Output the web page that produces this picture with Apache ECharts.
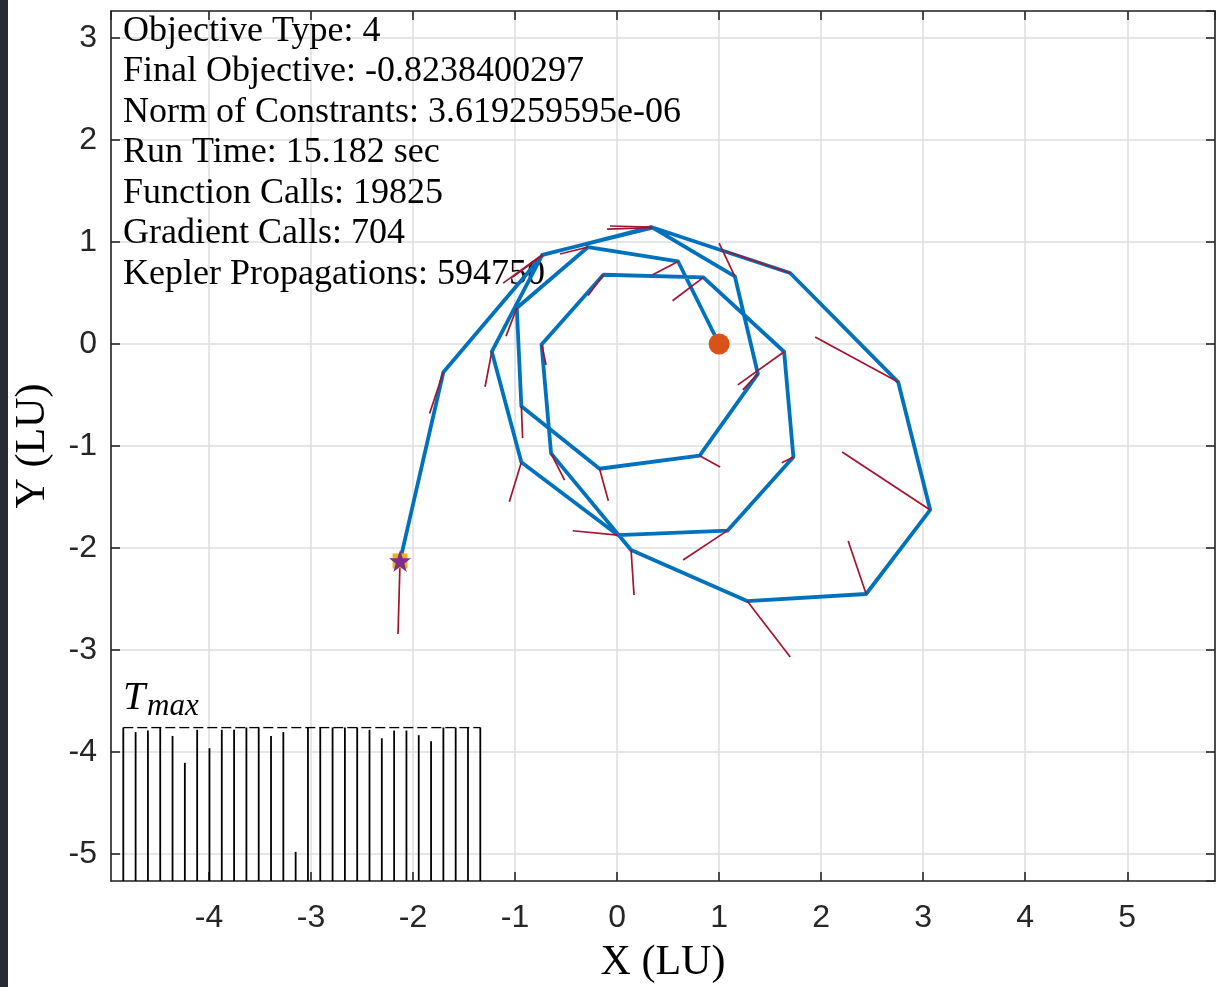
<!DOCTYPE html>
<html><head><meta charset="utf-8">
<script src="https://cdn.jsdelivr.net/npm/echarts@6.0.0/dist/echarts.min.js"></script>
<style>html,body{margin:0;padding:0;background:#fff}#c{width:1216px;height:987px}</style>
</head><body><div id="c"></div>
<script>
// Trajectory vertices (LU), from the final point (orange dot) back to the start (star)
const trajX = [1.000, 0.598, -0.284, -0.983, -0.938, -0.172, 0.809, 1.380, 1.154, 0.348, -0.733, -1.228, -0.938, 0.007, 1.081, 1.728, 1.637, 0.846, -0.134, -0.740, -0.647, 0.137, 1.275, 2.441, 3.069, 2.755, 1.696, 0.333, -0.728, -1.703, -2.127];
const trajY = [0.000, 0.809, 0.951, 0.353, -0.611, -1.223, -1.095, -0.292, 0.664, 1.142, 0.875, -0.074, -1.160, -1.873, -1.830, -1.108, -0.076, 0.654, 0.679, -0.005, -1.072, -2.020, -2.520, -2.451, -1.627, -0.373, 0.696, 1.147, 0.873, -0.277, -2.127];
// Thrust vectors drawn at each vertex (LU offsets)
const thrustDX = [0, -0.249, -0.275, -0.105, 0.012, 0.086, 0.201, -0.148, -0.154, -0.446, -0.384, -0.066, -0.118, -0.441, -0.434, -0.114, -0.454, -0.302, -0.150, 0.044, 0.132, 0.029, 0.422, -0.176, -0.863, -0.814, -0.637, -0.402, -0.300, -0.135, -0.020];
const thrustDY = [0, -0.130, -0.069, -0.276, -0.312, -0.314, -0.110, -0.157, 0.324, -0.015, -0.278, -0.345, -0.386, 0.042, -0.287, -0.056, -0.325, -0.230, -0.204, -0.201, -0.262, -0.441, -0.549, 0.520, 0.569, 0.441, 0.216, 0.010, -0.220, -0.404, -0.716];
// Throttle history (fraction of Tmax), one per segment
const throttle = [1.0, 0.97, 0.98, 1.0, 0.945, 0.77, 0.985, 0.865, 0.985, 0.985, 1.0, 1.0, 0.945, 0.97, 0.19, 1.0, 1.0, 1.0, 1.0, 1.0, 0.985, 0.93, 0.98, 0.98, 0.95, 0.91, 1.0, 1.0, 1.0, 1.0];
const tmaxLevel = 1;
const infoLines = [
  'Objective Type: 4',
  'Final Objective: -0.8238400297',
  'Norm of Constrants: 3.619259595e-06',
  'Run Time: 15.182 sec',
  'Function Calls: 19825',
  'Gradient Calls: 704',
  'Kepler Propagations: 594750'
];
const xRange = [-4.96, 5.86];
const yRange = [-5.265, 3.265];
const xTitle = 'X (LU)';
const yTitle = 'Y (LU)';
const tLabel = 'T';
const tSub = 'max';

const trajData = trajX.map((x, i) => [x, trajY[i]]);
const thrustData = trajX.map((x, i) => [x, trajY[i], thrustDX[i], thrustDY[i]]).slice(1);
const throttleData = throttle.map((v, i) => [i + 1, v]);
const endPoint = [[trajX[0], trajY[0]]];
const startPoint = [[trajX[trajX.length - 1], trajY[trajY.length - 1]]];

const axisColor = '#262626';
const gridColor = '#dedede';
const starPath = 'path://M50,0 L61.8,35.1 L98.1,35.1 L68.8,56.7 L79.4,91.9 L50,70.5 L20.6,91.9 L31.2,56.7 L1.9,35.1 L38.2,35.1 Z';

function mainAxis(pos, range, showLabel, showSplit, margin, pad) {
  return {
    type: 'value', gridIndex: 0, position: pos, min: range[0], max: range[1],
    splitNumber: 10, minInterval: 1, maxInterval: 1,
    axisLine: { show: true, onZero: false, lineStyle: { color: axisColor, width: 1.6 } },
    axisTick: { show: true, inside: true, length: 9, lineStyle: { color: axisColor, width: 1.6 } },
    axisLabel: { show: showLabel, showMinLabel: false, showMaxLabel: false, margin: margin,
      fontFamily: 'Liberation Sans', fontSize: 32, color: axisColor, padding: pad },
    splitLine: { show: showSplit, lineStyle: { color: gridColor, width: 1.5 } }
  };
}

const chart = echarts.init(document.getElementById('c'), null, { renderer: 'canvas' });
chart.setOption({
  animation: false,
  backgroundColor: '#ffffff',
  grid: [
    { left: 111, right: 1, top: 11, bottom: 106 },
    { left: 123.3, right: 735.7, top: 727.5, bottom: 106 }
  ],
  xAxis: [
    mainAxis('bottom', xRange, true, true, 21, 0),
    mainAxis('top', xRange, false, false, 8, 0),
    { type: 'value', gridIndex: 1, min: 1, max: 30, show: false }
  ],
  yAxis: [
    mainAxis('left', yRange, true, true, 14, [5, 0, 0, 0]),
    mainAxis('right', yRange, false, false, 8, 0),
    { type: 'value', gridIndex: 1, min: 0, max: 1, show: false }
  ],
  series: [
    { type: 'line', xAxisIndex: 0, yAxisIndex: 0, data: trajData, showSymbol: false, symbol: 'none',
      lineStyle: { color: '#0072BD', width: 3.8, join: 'round' }, z: 2 },
    { type: 'custom', xAxisIndex: 0, yAxisIndex: 0, data: thrustData, z: 3,
      renderItem: function (params, api) {
        const x = api.value(0), y = api.value(1);
        const p0 = api.coord([x, y]);
        const p1 = api.coord([x + api.value(2), y + api.value(3)]);
        return { type: 'line', shape: { x1: p0[0], y1: p0[1], x2: p1[0], y2: p1[1] },
          style: { stroke: '#A2142F', lineWidth: 1.7 } };
      } },
    { type: 'scatter', xAxisIndex: 0, yAxisIndex: 0, data: endPoint, symbol: 'circle', symbolSize: 21,
      itemStyle: { color: '#D95319', opacity: 1 }, z: 5 },
    { type: 'scatter', xAxisIndex: 0, yAxisIndex: 0, data: startPoint, symbol: 'rect', symbolSize: 15,
      itemStyle: { color: '#EDB120', opacity: 1 }, z: 5 },
    { type: 'scatter', xAxisIndex: 0, yAxisIndex: 0, data: startPoint, symbol: starPath, symbolSize: 22,
      itemStyle: { color: '#7E2F8E', opacity: 1 }, z: 6 },
    { type: 'custom', xAxisIndex: 2, yAxisIndex: 2, data: throttleData, z: 3,
      renderItem: function (params, api) {
        const p0 = api.coord([api.value(0), 0]);
        const p1 = api.coord([api.value(0), api.value(1)]);
        return { type: 'line', shape: { x1: p0[0], y1: p0[1], x2: p1[0], y2: p1[1] },
          style: { stroke: '#000000', lineWidth: 1.8 } };
      } },
    { type: 'line', xAxisIndex: 2, yAxisIndex: 2, data: [[1, tmaxLevel], [throttle.length, tmaxLevel]],
      showSymbol: false, symbol: 'none', lineStyle: { color: '#000000', width: 1.5, type: [10, 4] }, z: 3 }
  ],
  graphic: [
    { type: 'rect', shape: { x: 0, y: 0, width: 8, height: 987 }, style: { fill: '#282b36' }, z: 10 },
    { type: 'text', x: 123, y: 11, z: 1,
      style: { text: infoLines.join('\n'), fontFamily: 'Liberation Serif', fontSize: 36,
        lineHeight: 40.5, fill: '#000000', verticalAlign: 'top', align: 'left' } },
    { type: 'text', x: 123, y: 698, z: 1,
      style: { text: tLabel, fontFamily: 'Liberation Serif', fontStyle: 'italic', fontSize: 40,
        fill: '#000000', verticalAlign: 'middle', align: 'left' } },
    { type: 'text', x: 147, y: 707, z: 1,
      style: { text: tSub, fontFamily: 'Liberation Serif', fontStyle: 'italic', fontSize: 31,
        fill: '#000000', verticalAlign: 'middle', align: 'left' } },
    { type: 'text', x: 663, y: 963, z: 1,
      style: { text: xTitle, fontFamily: 'Liberation Serif', fontSize: 42,
        fill: '#000000', verticalAlign: 'middle', align: 'center' } },
    { type: 'text', x: 33, y: 446, rotation: Math.PI / 2, z: 1,
      style: { text: yTitle, fontFamily: 'Liberation Serif', fontSize: 42,
        fill: '#000000', verticalAlign: 'middle', align: 'center' } }
  ]
});
</script>
</body></html>
